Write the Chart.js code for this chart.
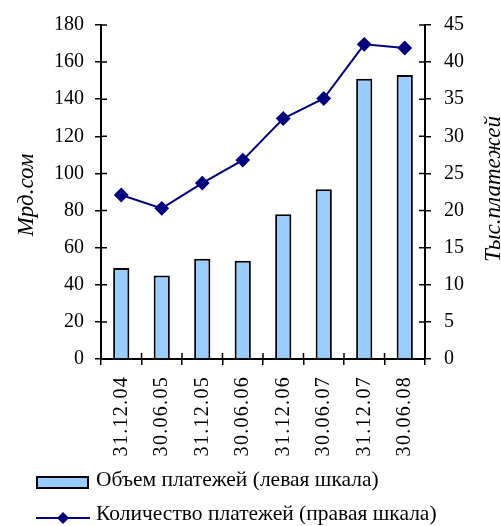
<!DOCTYPE html>
<html>
<head>
<meta charset="utf-8">
<script src="https://cdn.jsdelivr.net/npm/chart.js@4"></script>
<style>
  html, body { margin: 0; padding: 0; background: #fff; }
  #wrap { width: 501px; height: 526px; }
</style>
</head>
<body>
<div id="wrap"><canvas id="myChart" width="501" height="526"></canvas></div>
<script>
const labels = ['31.12.04', '30.06.05', '31.12.05', '30.06.06', '31.12.06', '30.06.07', '31.12.07', '30.06.08'];
const volume = [49, 45, 54, 53, 78, 91.5, 151, 153];
const count = [22.1, 20.3, 23.7, 26.8, 32.4, 35.1, 42.4, 41.9];
const seriesNames = ['Объем платежей (левая шкала)', 'Количество платежей (правая шкала)'];
const leftTitle = 'Мрд.сом';
const rightTitle = 'Тыс.платежей';

const FONT = '"Liberation Serif", "Times New Roman", Times, serif';
const NAVY = '#000080';
const BLUE = '#99ccff';

// inward halves of the cross tick marks, x labels, axis titles, legend
const extras = {
  id: 'extras',
  afterDraw(chart) {
    const c = chart.ctx;
    const a = chart.chartArea;
    const sx = chart.scales.x, sy = chart.scales.y, sy1 = chart.scales.y1;
    c.save();
    c.strokeStyle = '#000';
    c.lineWidth = 1.5;
    c.beginPath();
    sy.ticks.forEach((t, i) => {
      const py = sy.getPixelForTick(i);
      c.moveTo(a.left, py); c.lineTo(a.left + 6, py);
    });
    sy1.ticks.forEach((t, i) => {
      const py = sy1.getPixelForTick(i);
      c.moveTo(a.right, py); c.lineTo(a.right - 6, py);
    });
    const step = (a.right - a.left) / labels.length;
    for (let i = 1; i < labels.length; i++) {
      const px = a.left + step * i;
      c.moveTo(px, a.bottom); c.lineTo(px, a.bottom - 6);
    }
    c.stroke();

    // category labels, rotated, slightly spaced like the original
    c.fillStyle = '#000';
    c.font = '20px ' + FONT;
    c.letterSpacing = '1.3px';
    c.textAlign = 'right';
    c.textBaseline = 'middle';
    labels.forEach((lab, i) => {
      c.save();
      c.translate(sx.getPixelForTick(i), a.bottom + 17);
      c.rotate(-Math.PI / 2);
      c.fillText(lab, 0, 0);
      c.restore();
    });
    c.letterSpacing = '0px';

    // axis titles, both reading bottom to top
    c.font = 'italic 23px ' + FONT;
    c.textAlign = 'center';
    c.textBaseline = 'alphabetic';
    const midY = (a.top + a.bottom) / 2;
    [[33, midY + 3, leftTitle], [500, midY - 3, rightTitle]].forEach(([tx, ty, txt]) => {
      c.save();
      c.translate(tx, ty);
      c.rotate(-Math.PI / 2);
      c.fillText(txt, 0, 0);
      c.restore();
    });
    c.restore();

    // legend
    c.save();
    c.font = '21.5px ' + FONT;
    c.textAlign = 'left';
    c.textBaseline = 'alphabetic';
    c.fillStyle = BLUE;
    c.fillRect(37, 477, 51, 11);
    c.strokeStyle = '#000';
    c.lineWidth = 2;
    c.strokeRect(37, 477, 51, 11);
    c.fillStyle = '#000';
    c.fillText(seriesNames[0], 96, 486);

    c.strokeStyle = NAVY;
    c.lineWidth = 2;
    c.beginPath();
    c.moveTo(36, 518); c.lineTo(90, 518);
    c.stroke();
    c.fillStyle = NAVY;
    c.beginPath();
    c.moveTo(63, 512); c.lineTo(69, 518); c.lineTo(63, 524); c.lineTo(57, 518);
    c.closePath();
    c.fill();
    c.fillStyle = '#000';
    c.fillText(seriesNames[1], 96, 520);
    c.restore();
  }
};

function draw() {
  const ctx = document.getElementById('myChart').getContext('2d');
  new Chart(ctx, {
    data: {
      labels: labels,
      datasets: [{
        type: 'line',
        label: seriesNames[1],
        data: count,
        yAxisID: 'y1',
        borderColor: NAVY,
        borderWidth: 2,
        backgroundColor: NAVY,
        pointStyle: 'rectRot',
        pointRadius: 6,
        pointHoverRadius: 6,
        tension: 0,
        order: 0
      }, {
        type: 'bar',
        label: seriesNames[0],
        data: volume,
        yAxisID: 'y',
        backgroundColor: BLUE,
        borderColor: '#000',
        borderWidth: 2,
        barPercentage: 0.4,
        categoryPercentage: 1,
        order: 1
      }]
    },
    options: {
      responsive: false,
      animation: false,
      layout: { padding: { top: 25, bottom: 0, left: 0, right: 0 } },
      plugins: {
        legend: { display: false },
        tooltip: { enabled: false }
      },
      scales: {
        x: {
          offset: true,
          grid: { offset: true, drawOnChartArea: false, color: '#000', lineWidth: 1.5, tickLength: 6 },
          border: { color: '#000', width: 2 },
          ticks: { display: false },
          afterFit: s => { s.height = 167; }
        },
        y: {
          position: 'left',
          min: 0, max: 180,
          ticks: { stepSize: 20, color: '#000', font: { family: FONT, size: 20 }, padding: 11 },
          grid: { drawOnChartArea: false, color: '#000', lineWidth: 1.5, tickLength: 6 },
          border: { color: '#000', width: 2 },
          afterFit: s => { s.width = 101; }
        },
        y1: {
          position: 'right',
          min: 0, max: 45,
          ticks: { stepSize: 5, color: '#000', font: { family: FONT, size: 20 }, padding: 13 },
          grid: { drawOnChartArea: false, color: '#000', lineWidth: 1.5, tickLength: 6 },
          border: { color: '#000', width: 2 },
          afterFit: s => { s.width = 76; }
        }
      }
    },
    plugins: [extras]
  });
}

Promise.all([
  document.fonts.load('20px "Liberation Serif"', 'Мрд 180'),
  document.fonts.load('italic 20px "Liberation Serif"', 'Тыс')
]).then(draw, draw);
</script>
</body>
</html>
